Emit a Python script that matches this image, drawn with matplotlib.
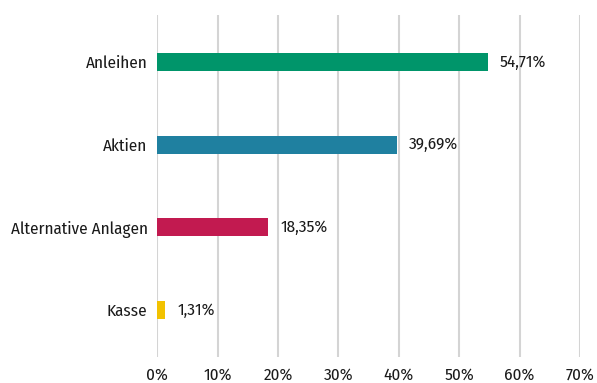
import matplotlib
matplotlib.use('Agg')
import matplotlib.pyplot as plt
from matplotlib import font_manager
from matplotlib.ticker import FuncFormatter

# narrow humanist sans, first one that is installed
installed = {f.name for f in font_manager.fontManager.ttflist}
for fam in ['Fira Sans Condensed', 'Fira Sans', 'Roboto Condensed', 'DejaVu Sans']:
    if fam in installed:
        break
plt.rcParams['font.family'] = [fam, 'DejaVu Sans']

categories = ['Anleihen', 'Aktien', 'Alternative Anlagen', 'Kasse']
values = [54.71, 39.69, 18.35, 1.31]
colors = ['#00956a', '#1f80a0', '#c21a50', '#f2c200']
xticks = [0, 10, 20, 30, 40, 50, 60, 70]

fs = 12.3

fig = plt.figure(figsize=(5.97, 3.83), dpi=100)
ax = fig.add_axes([0.2635, 0.068, 0.708, 0.893])

pos = list(range(len(categories)))
ax.barh(pos, values, height=0.218, color=colors, zorder=3)

for p, v in zip(pos, values):
    ax.text(v + 2.0, p, '{:.2f}%'.format(v).replace('.', ','),
            va='center', ha='left', fontsize=fs, color='#1a1a1a')

ax.set_xlim(0, 70)
ax.set_ylim(3.567, -0.567)
ax.set_xticks(xticks)
ax.xaxis.set_major_formatter(FuncFormatter(lambda x, _: '{:.0f}%'.format(x)))
ax.set_yticks(pos)
ax.set_yticklabels(categories)

ax.grid(axis='x', color='#d4d4d4', linewidth=1.5, zorder=0)
for s in ax.spines.values():
    s.set_visible(False)
ax.tick_params(axis='both', length=0, labelsize=fs, colors='#1a1a1a')
ax.tick_params(axis='y', pad=7)
ax.tick_params(axis='x', pad=7)

fig.savefig('out.png', dpi=100)
